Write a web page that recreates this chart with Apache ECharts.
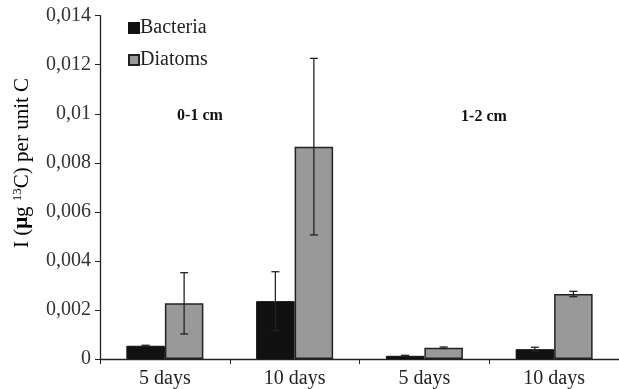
<!DOCTYPE html>
<html>
<head>
<meta charset="utf-8">
<script src="https://cdn.jsdelivr.net/npm/echarts@6/dist/echarts.min.js"></script>
<style>html,body{margin:0;padding:0;background:#fff}#c{width:619px;height:389px}</style>
</head>
<body>
<div id="c"></div>
<script>
var categories = ['5 days', '10 days', '5 days', '10 days'];
var bacteria = [0.00054, 0.00236, 0.00013, 0.00040];
var bacteriaErr = [0.00002, 0.00120, 0.00002, 0.00008];
var diatoms = [0.00227, 0.00866, 0.00046, 0.00265];
var diatomsErr = [0.00125, 0.00360, 0.00003, 0.00011];
var yTickLabels = ['0', '0,002', '0,004', '0,006', '0,008', '0,01', '0,012', '0,014'];
var depthLabels = ['0-1 cm', '1-2 cm'];

var FONT = '"Liberation Serif", "Times New Roman", serif';
var BAR_W = 38.5;

function errData(vals, errs) {
  return vals.map(function (v, i) { return [i, v - errs[i], v + errs[i]]; });
}
function errSeries(name, vals, errs, offset) {
  return {
    type: 'custom',
    name: name + ' err',
    z: 10,
    silent: true,
    data: errData(vals, errs),
    renderItem: function (params, api) {
      var lo = api.coord([api.value(0), api.value(1)]);
      var hi = api.coord([api.value(0), api.value(2)]);
      var x = lo[0] + offset;
      var cw = 4;
      var st = { stroke: '#222', lineWidth: 1.3 };
      return {
        type: 'group',
        children: [
          { type: 'line', shape: { x1: x, y1: lo[1], x2: x, y2: hi[1] }, style: st },
          { type: 'line', shape: { x1: x - cw, y1: lo[1], x2: x + cw, y2: lo[1] }, style: st },
          { type: 'line', shape: { x1: x - cw, y1: hi[1], x2: x + cw, y2: hi[1] }, style: st }
        ]
      };
    }
  };
}

var chart = echarts.init(document.getElementById('c'), null, { renderer: 'canvas' });
chart.setOption({
  animation: false,
  backgroundColor: '#fff',
  textStyle: { fontFamily: FONT },
  grid: { left: 100, top: 15.7, bottom: 27, width: 532, containLabel: false },
  legend: {
    data: ['Bacteria', 'Diatoms'],
    orient: 'vertical',
    left: 128,
    top: 18,
    padding: 0,
    itemWidth: 10,
    itemHeight: 10,
    itemGap: 12,
    icon: 'rect',
    textStyle: { fontFamily: FONT, fontSize: 20, color: '#222', lineHeight: 20, padding: [0, 0, 0, -4] }
  },
  xAxis: {
    type: 'category',
    data: categories,
    axisLine: { lineStyle: { color: '#222', width: 1.3 } },
    axisTick: { show: true, length: 5, lineStyle: { color: '#222' } },
    axisLabel: { fontFamily: FONT, fontSize: 20, color: '#222', margin: 10 }
  },
  yAxis: {
    type: 'value',
    min: 0,
    max: 0.014,
    interval: 0.002,
    splitLine: { show: false },
    axisLine: { show: true, lineStyle: { color: '#222', width: 1.3 } },
    axisTick: { show: true, length: 5, lineStyle: { color: '#222' } },
    axisLabel: {
      fontFamily: FONT, fontSize: 20, color: '#333', margin: 9,
      formatter: function (v) { return yTickLabels[Math.round(v / 0.002)]; }
    }
  },
  graphic: [
    {
      type: 'text',
      x: 22, y: 163,
      rotation: Math.PI / 2,
      style: {
        text: '{n|I (}{b|μ}{n|g }{s|13}{n|C) per unit C}',
        align: 'center',
        verticalAlign: 'middle',
        rich: {
          n: { fontFamily: FONT, fontSize: 21, color: '#222' },
          b: { fontFamily: FONT, fontSize: 21, color: '#222', fontWeight: 'bold' },
          s: { fontFamily: FONT, fontSize: 13, color: '#222', verticalAlign: 'top', padding: [0, 0, 9, 0] }
        }
      }
    },
    {
      type: 'text', x: 200, y: 116,
      style: { text: depthLabels[0], fontFamily: FONT, fontSize: 16, fontWeight: 'bold', fill: '#111', align: 'center', verticalAlign: 'middle' }
    },
    {
      type: 'text', x: 484, y: 117,
      style: { text: depthLabels[1], fontFamily: FONT, fontSize: 16, fontWeight: 'bold', fill: '#111', align: 'center', verticalAlign: 'middle' }
    }
  ],
  series: [
    {
      name: 'Bacteria', type: 'bar', data: bacteria, barWidth: BAR_W, barGap: '0%',
      itemStyle: { color: '#111', borderColor: '#111', borderWidth: 1 }
    },
    {
      name: 'Diatoms', type: 'bar', data: diatoms, barWidth: BAR_W, barGap: '0%',
      itemStyle: { color: '#999', borderColor: '#222', borderWidth: 1.5 }
    },
    errSeries('Bacteria', bacteria, bacteriaErr, -BAR_W / 2),
    errSeries('Diatoms', diatoms, diatomsErr, BAR_W / 2)
  ]
});
</script>
</body>
</html>
